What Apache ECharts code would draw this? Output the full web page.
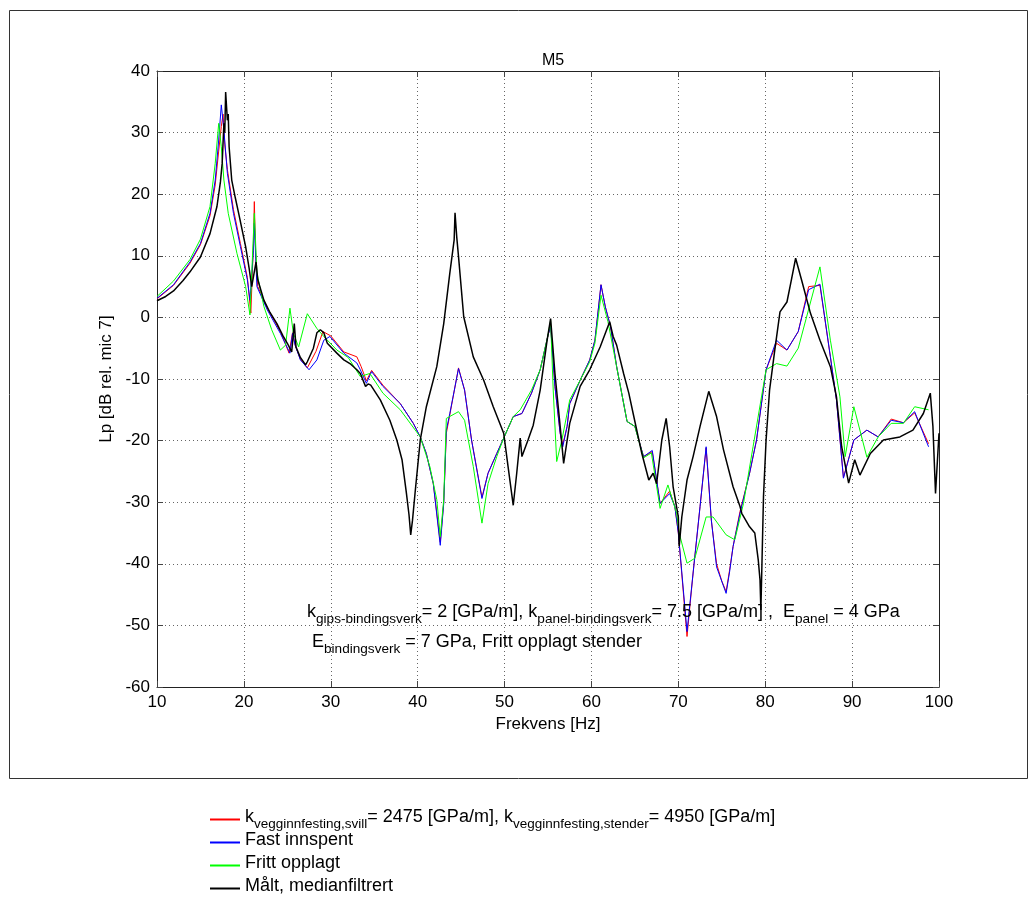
<!DOCTYPE html>
<html>
<head>
<meta charset="utf-8">
<script src="https://cdn.jsdelivr.net/npm/echarts@6/dist/echarts.min.js"></script>
<style>
html,body{margin:0;padding:0;background:#fff;}
#chart{width:1036px;height:916px;}
</style>
</head>
<body>
<div id="chart"></div>
<script>
// ---- data: [frequency Hz, Lp dB] ----
var xTicks = [10, 20, 30, 40, 50, 60, 70, 80, 90, 100];
var yTicks = [-60, -50, -40, -30, -20, -10, 0, 10, 20, 30, 40];

var seriesNames = ['kvegg', 'fast', 'fritt', 'malt'];
var seriesColors = ['#ff0000', '#0000ff', '#00ff00', '#000000'];

var redData = [
[10,3],[11.9,5.2],[13.8,8.8],[15,11.8],[16.1,16.5],[16.7,21.5],[17.1,27],[17.4,31],[17.6,33],[17.8,28],[18.1,24],[18.8,17.5],[19.6,12],[20.4,6.5],[20.8,0.7],[21.1,12],[21.2,18.8],[21.4,8],[21.6,5],[22.7,1.5],[24.2,-2.3],[25.2,-5.8],[25.6,-2.5],[25.9,-4.5],[26.5,-6.8],[27.3,-8.2],[28.3,-5.5],[29.1,-2.3],[30,-3],[31.5,-5.6],[33,-6.4],[33.5,-8],[34.1,-10.3],[34.7,-8.6],[36,-11],[38,-14],[39.5,-17.2],[40.3,-19.4],[41,-22.1],[41.8,-27],[42.6,-36.5],[43,-30],[43.3,-18.8],[43.7,-15.8],[44.7,-8.2],[45.4,-11.8],[46.2,-19.9],[47.4,-29.2],[48.1,-25.3],[49.1,-22.1],[49.9,-19.6],[51,-16.1],[52,-15.6],[53.1,-12.3],[54.1,-8.5],[55,-2.9],[55.3,-1.3],[55.8,-11.2],[56.4,-18.8],[56.7,-20.6],[57.2,-17.7],[57.5,-14],[58.7,-10.2],[59.8,-6.9],[60.4,-3.7],[61.1,5.3],[61.6,1.7],[62.2,-1.5],[62.9,-8],[64.1,-16.9],[65,-17.7],[66,-22.6],[67,-21.8],[67.9,-30.2],[69,-28.2],[69.6,-30.7],[70,-35],[71,-51.8],[71.7,-41.5],[72.5,-30.7],[73.2,-21.2],[73.8,-33],[74.4,-40],[75,-42.8],[75.5,-44.5],[75.9,-41],[76.3,-37.2],[77.1,-31.5],[78.2,-25.3],[79,-19.9],[80.1,-8.5],[81.3,-4.2],[82.5,-5.3],[83.8,-2.3],[85,5],[86.3,5.2],[87.5,-6.4],[88.2,-13.4],[89,-26],[90.2,-19.9],[91.7,-18.3],[93,-19.4],[94.5,-16.5],[95.9,-17.1],[97.2,-15.5],[98.8,-20.5]
];

var blueData = [
[10,3.1],[11.9,5.3],[13.8,9],[15,12],[16.1,16.9],[16.7,22.3],[17.1,28.8],[17.4,34.5],[17.7,30.4],[18.1,23.4],[18.8,16.9],[19.6,11.5],[20.4,6.1],[20.7,2.8],[21.1,10.9],[21.2,15.3],[21.5,5],[22.7,1.2],[24.2,-2.6],[25.3,-5.8],[25.6,-2.6],[25.9,-4.5],[26.5,-6.9],[27.5,-8.5],[28.4,-6.9],[29.2,-3.7],[29.9,-3.1],[31.5,-5.8],[33,-7.4],[33.4,-8.5],[34.1,-10.7],[34.7,-8.8],[36,-11.2],[38,-14],[39.5,-17.2],[40.3,-19.4],[41,-22.1],[41.8,-27],[42.6,-37],[43,-30.2],[43.3,-18.3],[43.7,-15.6],[44.7,-8.3],[45.4,-11.8],[46.2,-19.9],[47.4,-29.4],[48.1,-25.3],[49.1,-22.1],[49.9,-19.6],[51,-16.1],[52,-15.6],[53.1,-12.3],[54.1,-8.5],[55,-2.9],[55.3,-1.5],[55.8,-11.2],[56.4,-18.8],[56.7,-21],[57.2,-17.7],[57.5,-14],[58.7,-10.2],[59.8,-6.9],[60.4,-3.7],[61.1,5.3],[61.6,1.7],[62.2,-1.5],[62.9,-8],[64.1,-16.9],[65,-17.7],[66,-22.6],[67,-21.6],[67.9,-30.2],[69,-28.6],[69.6,-30.7],[70,-35],[71,-51],[71.7,-41.5],[72.5,-30.7],[73.2,-21],[73.8,-32.9],[74.4,-40.5],[75.5,-44.8],[75.9,-41.3],[76.3,-37.2],[77.1,-31.8],[78.2,-25.3],[79,-19.9],[80.1,-8.5],[81.3,-3.7],[82.5,-5.3],[83.8,-2.3],[85,4.5],[86.3,5.4],[87.5,-6.4],[88.2,-13.4],[89,-26.1],[90.2,-19.9],[91.7,-18.3],[93,-19.4],[94.5,-16.7],[95.9,-17.1],[97.2,-15.3],[98.8,-21]
];

var greenData = [
[10,3.4],[11.9,5.9],[13.8,9.4],[15,12.7],[16.1,18],[16.7,25],[17.1,31.5],[17.4,27.7],[17.7,22.3],[18.2,16.9],[19.2,10.4],[20.2,5],[20.7,0.4],[21.2,16.9],[21.5,7.2],[22.3,1.8],[23.2,-2],[24.2,-5.3],[24.8,-4.5],[25.3,1.5],[25.7,-2.6],[26.3,-4.8],[27.3,0.6],[28.4,-1.8],[29.2,-3.1],[30.7,-5.3],[32,-6.5],[33.4,-9.6],[34.5,-9.1],[36,-12.3],[38,-15],[40.3,-19.4],[41.4,-24.2],[42.2,-29.6],[42.6,-35.6],[43,-29.6],[43.3,-16.4],[44.7,-15.3],[45.4,-16.7],[46.4,-24.2],[47.4,-33.4],[48.1,-27],[49.1,-22.6],[49.9,-19.6],[51,-16.1],[51.8,-15],[53.1,-11.8],[54.1,-8.5],[55,-2.9],[55.3,-0.5],[55.6,-11.8],[56,-23.4],[56.6,-19.9],[57.5,-13.4],[58.7,-10.2],[59.8,-7.2],[60.4,-4.2],[61.1,3.6],[61.9,-0.7],[62.9,-8],[64.1,-16.9],[65,-17.7],[66,-22.8],[66.9,-22],[67.9,-31],[68.8,-27.2],[69.8,-31.8],[70.1,-35],[71,-39.9],[71.9,-39.1],[73.2,-32.4],[74,-32.4],[75.5,-35.3],[76.5,-36.1],[77.5,-30.2],[78.6,-21],[80.1,-8.5],[81.3,-7.5],[82.5,-7.9],[83.8,-5],[86.3,8.2],[87.5,-3.7],[88.6,-12.9],[89.2,-22.6],[90.2,-14.5],[91.7,-22.7],[93,-19.4],[94.5,-17.2],[95.9,-17.2],[97.2,-14.5],[98.8,-15]
];

var blackData = [
[10,2.7],[11,3.4],[11.9,4.3],[13,6],[13.8,7.4],[15,9.8],[16.1,13.6],[16.9,18],[17.3,22],[17.5,25],[17.7,31.5],[17.8,30],[17.9,36.6],[18.1,32],[18.2,33],[18.3,27.7],[18.6,22.3],[19,19.5],[19.4,16.9],[20.2,11.5],[20.6,8],[20.9,5],[21.1,4.8],[21.4,9],[21.6,6.1],[22.3,2.8],[23,0.8],[23.8,-1],[24.5,-3],[25,-4.2],[25.5,-5.6],[25.8,-1],[26,-4.8],[26.5,-6.5],[27.1,-7.7],[27.3,-7.2],[27.5,-7.5],[28,-5],[28.4,-2.5],[28.8,-2],[29.2,-2.5],[29.6,-4.2],[30.7,-5.8],[31.5,-6.9],[32.3,-7.6],[33,-8.5],[33.4,-9.1],[34,-11.2],[34.3,-10.8],[34.6,-11],[35.7,-13.4],[36.8,-16.7],[37.6,-19.9],[38.2,-23.1],[38.7,-28.5],[39,-32],[39.2,-35.3],[39.4,-33],[39.7,-28.5],[40.3,-19.9],[41,-14.5],[42.2,-8],[43,-1],[43.7,7.2],[44.2,12.6],[44.3,17],[44.5,13],[44.7,9.9],[45.3,0.1],[46.4,-6.4],[47.6,-10.2],[48.7,-14.5],[49.9,-18.8],[50.4,-24.2],[51,-30.5],[51.4,-25.3],[51.8,-19.6],[52,-22.6],[52.7,-19.9],[53.3,-17.5],[54.1,-11.8],[54.9,-3.7],[55.3,-0.2],[55.8,-9.1],[56.4,-17.7],[56.8,-23.7],[57.5,-17.2],[58.7,-11.2],[59.8,-8.5],[61,-4.8],[62.1,-0.7],[62.5,-3.1],[62.9,-4.5],[63.1,-4.2],[63.7,-9.1],[64.3,-12.3],[64.8,-15.6],[65.8,-22.1],[66.6,-26.4],[67.1,-25.3],[67.5,-27],[68.1,-19.9],[68.6,-16.4],[69,-21],[69.4,-27.5],[70,-32.4],[70.1,-37.2],[70.4,-32.4],[71,-26.4],[71.7,-22.6],[72.5,-17.7],[73.5,-12],[74.4,-16.1],[75.2,-21.5],[76.3,-27.5],[77.1,-30.7],[77.3,-31.8],[78.2,-34],[78.8,-35],[79.2,-39.4],[79.4,-42.6],[79.5,-47.5],[79.8,-29.1],[80.1,-19.9],[80.5,-11.8],[81.1,-5.3],[81.7,0.9],[82.5,2.5],[83,6],[83.5,9.6],[84.2,6],[85.2,0.7],[86.3,-3.7],[87.5,-8],[88.2,-12.9],[88.8,-21],[89.6,-26.9],[90.3,-23.1],[90.9,-25.6],[92.1,-22.1],[93.6,-19.9],[95.5,-19.4],[97,-18.3],[98.2,-15.6],[99,-12.3],[99.3,-17.7],[99.6,-28.6],[100,-18.8]
];

var FONT = 'Liberation Sans, Arial, Helvetica, sans-serif';

var legendLabels = {
  kvegg: '{m|k}{s|vegginnfesting,svill}{m|= 2475 [GPa/m], k}{s|vegginnfesting,stender}{m|= 4950 [GPa/m]}',
  fast: '{m|Fast innspent}',
  fritt: '{m|Fritt opplagt}',
  malt: '{m|Målt, medianfiltrert}'
};

var richStyles = {
  m: {fontFamily: FONT, fontSize: 18, lineHeight: 23, color: '#000', verticalAlign: 'top'},
  s: {fontFamily: FONT, fontSize: 13.5, lineHeight: 8, color: '#000', verticalAlign: 'bottom'}
};
var richStylesAnno = {
  m: {fontFamily: FONT, fontSize: 18, lineHeight: 23, color: '#000', verticalAlign: 'top'},
  s: {fontFamily: FONT, fontSize: 13.6, lineHeight: 8, color: '#333', verticalAlign: 'bottom'}
};

function valAxis(pos, min, max, interval, showLabel, split) {
  return {
    type: 'value', position: pos, min: min, max: max, interval: interval,
    axisLine: {show: true, onZero: false, lineStyle: {color: '#222', width: 1}},
    axisTick: {show: true, inside: true, length: 6, lineStyle: {color: '#444'}},
    axisLabel: {show: showLabel, color: '#000', fontSize: 17, fontFamily: FONT, margin: 7},
    splitLine: {show: split, lineStyle: {color: '#666', type: [1, 3], width: 1}}
  };
}

var xBottom = valAxis('bottom', xTicks[0], xTicks[xTicks.length - 1], 10, true, true);
xBottom.name = 'Frekvens [Hz]';
xBottom.nameLocation = 'middle';
xBottom.nameGap = 29;
xBottom.nameTextStyle = {color: '#000', fontSize: 17, fontFamily: FONT, verticalAlign: 'top'};
var xTop = valAxis('top', xTicks[0], xTicks[xTicks.length - 1], 10, false, false);

var yLeft = valAxis('left', yTicks[0], yTicks[yTicks.length - 1], 10, true, true);
yLeft.name = 'Lp [dB rel. mic 7]';
yLeft.nameLocation = 'middle';
yLeft.nameGap = 41;
yLeft.nameTextStyle = {color: '#000', fontSize: 17, fontFamily: FONT};
var yRight = valAxis('right', yTicks[0], yTicks[yTicks.length - 1], 10, false, false);

function mkSeries(name, data, color, width) {
  return {
    name: name, type: 'line', data: data, xAxisIndex: 0, yAxisIndex: 0,
    color: color,
    showSymbol: false, symbol: 'none', smooth: false, clip: true,
    lineStyle: {color: color, width: width}, itemStyle: {color: color},
    emphasis: {disabled: true}, animation: false
  };
}

var chart = echarts.init(document.getElementById('chart'), null, {renderer: 'canvas'});
chart.setOption({
  backgroundColor: '#fff',
  animation: false,
  color: seriesColors,
  title: {
    text: 'M5', left: 548, top: 48, textAlign: 'center',
    textStyle: {fontFamily: FONT, fontSize: 16, fontWeight: 'normal', color: '#000'}
  },
  grid: {left: 157, right: 97, top: 71, bottom: 229, containLabel: false},
  xAxis: [xBottom, xTop],
  yAxis: [yLeft, yRight],
  legend: {
    orient: 'vertical', left: 205, top: 803, itemGap: 0,
    itemWidth: 30, itemHeight: 2, icon: 'rect',
    itemStyle: {borderWidth: 0},
    data: seriesNames,
    selectedMode: false,
    formatter: function (n) { return legendLabels[n]; },
    textStyle: {rich: richStyles, lineHeight: 23}
  },
  graphic: [
    {type: 'rect', silent: true, z: -1,
     shape: {x: 9.5, y: 10.5, width: 1018, height: 768},
     style: {fill: 'none', stroke: '#333', lineWidth: 1}},
    {type: 'text', left: 307, top: 603, silent: true, z: 100,
     style: {text: '{m|k}{s|gips-bindingsverk}{m|= 2 [GPa/m], k}{s|panel-bindingsverk}{m|= 7.5 [GPa/m] ,  E}{s|panel}{m| = 4 GPa}',
             rich: richStylesAnno, fill: '#000'}},
    {type: 'text', left: 312, top: 633, silent: true, z: 100,
     style: {text: '{m|E}{s|bindingsverk}{m| = 7 GPa, Fritt opplagt stender}',
             rich: richStylesAnno, fill: '#000'}}
  ],
  series: [
    mkSeries('kvegg', redData, seriesColors[0], 1),
    mkSeries('fast', blueData, seriesColors[1], 1),
    mkSeries('fritt', greenData, seriesColors[2], 1),
    mkSeries('malt', blackData, seriesColors[3], 1.5)
  ]
});
</script>
</body>
</html>
